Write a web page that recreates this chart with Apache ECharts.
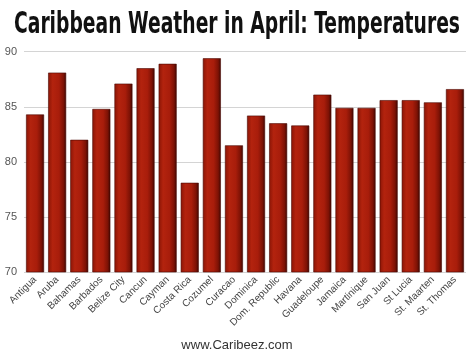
<!DOCTYPE html>
<html><head><meta charset="utf-8">
<script src="https://cdn.jsdelivr.net/npm/echarts@6/dist/echarts.min.js"></script>
<style>html,body{margin:0;padding:0;background:#fff}#c{width:474px;height:357px}</style>
</head><body><div id="c"></div>
<script>
const categories = ["Antigua","Aruba","Bahamas","Barbados","Belize City","Cancun","Cayman","Costa Rica","Cozumel","Curacao","Dominica","Dom. Republic","Havana","Guadeloupe","Jamaica","Martinique","San Juan","St Lucia","St. Maarten","St. Thomas"];
const temps = [84.3,88.1,82,84.8,87.1,88.5,88.9,78.1,89.4,81.5,84.2,83.5,83.3,86.1,84.9,84.9,85.6,85.6,85.4,86.6];
const yTicks = [70,75,80,85,90];
const titleText = 'Caribbean Weather in April: Temperatures';

const titleFont = "bold 31px 'DejaVu Sans Condensed','DejaVu Sans',sans-serif";
const cv = document.createElement('canvas').getContext('2d');
cv.font = titleFont;
const tw = cv.measureText(titleText).width;
const sx = 446 / tw;

const chart = echarts.init(document.getElementById('c'));
chart.setOption({
  animation:false,
  backgroundColor:'#fff',
  title:[{
    text:'www.Caribeez.com',
    left:'center', top:334,
    textStyle:{fontFamily:"Arial,'Liberation Sans',sans-serif",fontWeight:'normal',fontSize:13,color:'#333'}
  }],
  graphic:[{
    type:'text', x:237, y:25, scaleX:sx, scaleY:1,
    style:{text:titleText,font:titleFont,fill:'#111',align:'center',verticalAlign:'middle'}
  }],
  grid:{left:24,right:8,top:51.7,bottom:85,containLabel:false},
  xAxis:{
    type:'category', data:categories,
    axisLine:{show:false}, axisTick:{show:false},
    axisLabel:{rotate:45,interval:0,fontSize:10,color:'#444',fontFamily:"Arial,'Liberation Sans',sans-serif",margin:6}
  },
  yAxis:{
    type:'value', min:yTicks[0], max:yTicks[yTicks.length-1], interval:5,
    axisLine:{show:false}, axisTick:{show:false},
    axisLabel:{fontSize:11,color:'#555',fontFamily:"Arial,'Liberation Sans',sans-serif",margin:7},
    splitLine:{lineStyle:{color:'#d4d4d4',width:1}}
  },
  series:[{
    type:'bar', data:temps, barWidth:18,
    itemStyle:{
      color:new echarts.graphic.LinearGradient(0,0,1,0,[
        {offset:0,color:'#8a1506'},{offset:0.25,color:'#b3230e'},{offset:0.6,color:'#a81d0b'},{offset:0.85,color:'#7d1205'},{offset:1,color:'#3d0702'}
      ]),
      borderColor:'#4a0803', borderWidth:0.6
    }
  }]
});
</script></body></html>
